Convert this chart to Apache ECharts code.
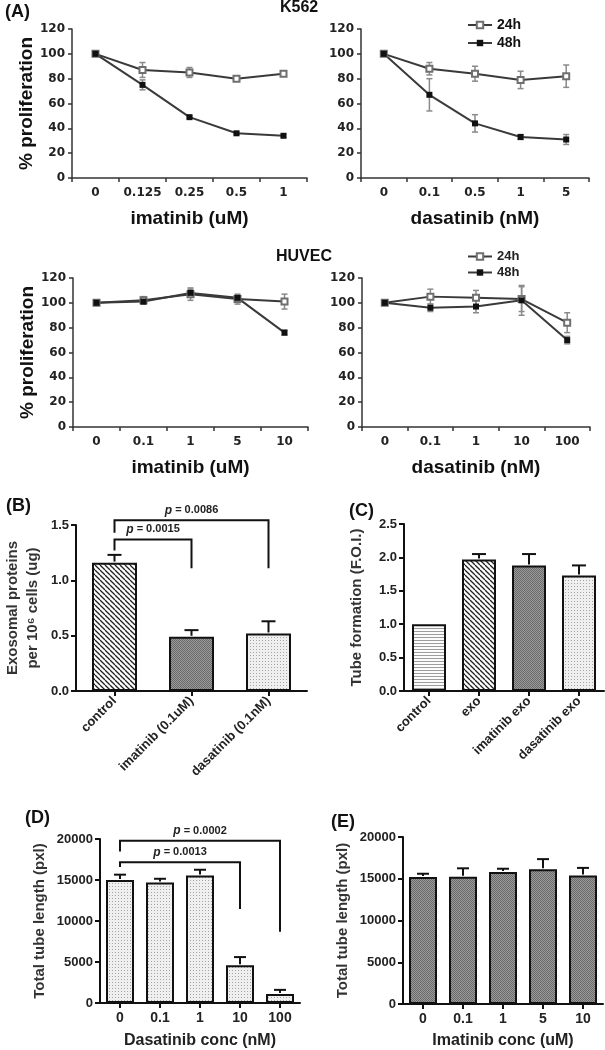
<!DOCTYPE html>
<html><head><meta charset="utf-8">
<script src="https://cdn.jsdelivr.net/npm/echarts@6/dist/echarts.min.js"></script>
<style>html,body{margin:0;padding:0;background:#fff}#c{width:605px;height:1050px}</style>
</head><body><div id="c"></div>
<script>
// ---------- DATA ----------
const catKImat = ['0','0.125','0.25','0.5','1'];
const catKDasa = ['0','0.1','0.5','1','5'];
const catHImat = ['0','0.1','1','5','10'];
const catHDasa = ['0','0.1','1','10','100'];

const kImat24 = [100, 87, 85, 80, 84];   const kImat24Err = [0, 6, 4, 2, 1];
const kImat48 = [100, 75, 49, 36, 34];   const kImat48Err = [0, 4, 1, 1, 1];
const kDasa24 = [100, 88, 84, 79, 82];   const kDasa24Err = [0, 5, 6, 7, 9];
const kDasa48 = [100, 67, 44, 33, 31];   const kDasa48Err = [0, 13, 7, 2, 4];
const hImat24 = [100, 102, 107, 103, 101]; const hImat24Err = [0, 3, 5, 4, 6];
const hImat48 = [100, 101, 108, 104, 76];  const hImat48Err = [0, 2, 3, 2, 2];
const hDasa24 = [100, 105, 104, 103, 84];  const hDasa24Err = [0, 6, 6, 10, 8];
const hDasa48 = [100, 96, 97, 102, 70];    const hDasa48Err = [0, 3, 5, 12, 3];
const profTicks = [0, 20, 40, 60, 80, 100, 120];

const catB = ['control','imatinib (0.1uM)','dasatinib (0.1nM)'];
const valB = [1.16, 0.49, 0.52];
const errB = [0.07, 0.06, 0.11];
const bracketB = [[0, 1, 1.37, 1.27, 1.11], [0, 2, 1.543, 1.43, 1.11]];
const pLabelB = ['0.0015', '0.0086'];

const catC = ['control','exo','imatinib exo','dasatinib exo'];
const valC = [1.0, 1.97, 1.88, 1.73];
const errC = [0, 0.08, 0.17, 0.15];

const catD = ['0','0.1','1','10','100'];
const valD = [15000, 14700, 15550, 4600, 1100];
const errD = [650, 450, 700, 1000, 500];
const bracketD = [[0, 3, 17150, 16600, 11450], [0, 4, 19800, 18470, 8700]];
const pLabelD = ['0.0013', '0.0002'];

const catE = ['0','0.1','1','5','10'];
const valE = [15200, 15250, 15800, 16150, 15400];
const errE = [400, 1000, 400, 1200, 900];

// ---------- PATTERNS (style) ----------
function makePattern(kind){
  const c = document.createElement('canvas');
  let ctx;
  if (kind === 'diag') {
    c.width = 5; c.height = 5; ctx = c.getContext('2d');
    ctx.fillStyle = '#fff'; ctx.fillRect(0,0,5,5);
    ctx.strokeStyle = '#222'; ctx.lineWidth = 1.3;
    for (const k of [-5,0,5]) { ctx.beginPath(); ctx.moveTo(k,0); ctx.lineTo(k+5,5); ctx.stroke(); }
  } else if (kind === 'dark') {
    c.width = 2; c.height = 2; ctx = c.getContext('2d');
    ctx.fillStyle = '#9a9a9a'; ctx.fillRect(0,0,2,2);
    ctx.fillStyle = '#6a6a6a'; ctx.fillRect(0,0,1,1); ctx.fillRect(1,1,1,1);
  } else if (kind === 'dots') {
    c.width = 3; c.height = 3; ctx = c.getContext('2d');
    ctx.fillStyle = '#efefef'; ctx.fillRect(0,0,3,3);
    ctx.fillStyle = '#a5a5a5'; ctx.fillRect(1,1,1,1);
  } else if (kind === 'horiz') {
    c.width = 3; c.height = 3; ctx = c.getContext('2d');
    ctx.fillStyle = '#fbfbfb'; ctx.fillRect(0,0,3,3);
    ctx.fillStyle = '#9c9c9c'; ctx.fillRect(0,1,3,1);
  }
  return {image: c, repeat: 'repeat'};
}
const P = {diag: makePattern('diag'), dark: makePattern('dark'), dots: makePattern('dots'), horiz: makePattern('horiz')};
const fillB = [P.diag, P.dark, P.dots];
const fillC = [P.horiz, P.diag, P.dark, P.dots];

// ---------- HELPERS ----------
const FA = 'Liberation Sans';
const lineAxisColor = '#333';
function lineX(gi, cats, name){
  return {type:'category', gridIndex:gi, data:cats, boundaryGap:true,
    name:name, nameLocation:'middle', nameGap:31,
    nameTextStyle:{fontFamily:FA, fontWeight:'bold', fontSize:19, color:'#111'},
    axisLine:{show:true, lineStyle:{color:lineAxisColor, width:1.5}},
    axisTick:{show:true, length:4, interval:0, lineStyle:{color:lineAxisColor, width:1.5}},
    axisLabel:{interval:0, fontFamily:'DejaVu Sans', fontWeight:'bold', fontSize:12, color:'#222', margin:9},
    splitLine:{show:false}};
}
function lineY(gi, name){
  return {type:'value', gridIndex:gi, min:profTicks[0], max:profTicks[profTicks.length-1], interval:profTicks[1]-profTicks[0],
    name:name, nameLocation:'middle', nameGap:36,
    nameTextStyle:{fontFamily:FA, fontWeight:'bold', fontSize:19, color:'#111'},
    axisLine:{show:true, lineStyle:{color:lineAxisColor, width:1.5}},
    axisTick:{show:true, length:4, lineStyle:{color:lineAxisColor, width:1.5}},
    axisLabel:{fontFamily:'DejaVu Sans', fontWeight:'bold', fontSize:12, color:'#222', margin:7},
    splitLine:{show:false}};
}
function barX(gi, cats, opts){
  return Object.assign({type:'category', gridIndex:gi, data:cats, boundaryGap:true,
    nameLocation:'middle', nameGap:30,
    nameTextStyle:{fontFamily:FA, fontWeight:'bold', fontSize:16, color:'#222'},
    axisLine:{show:true, lineStyle:{color:'#111', width:2}},
    axisTick:{show:true, alignWithLabel:true, interval:0, length:5, lineStyle:{color:'#111', width:2}},
    axisLabel:{interval:0, fontFamily:FA, fontWeight:'bold', fontSize:14, color:'#222', margin:8},
    splitLine:{show:false}}, opts || {});
}
function barY(gi, min, max, interval, name, gap, fmt, fs){
  return {type:'value', gridIndex:gi, min:min, max:max, interval:interval,
    name:name, nameLocation:'middle', nameGap:gap,
    nameTextStyle:{fontFamily:FA, fontWeight:'bold', fontSize:15, color:'#333', lineHeight:20},
    axisLine:{show:true, lineStyle:{color:'#111', width:2}},
    axisTick:{show:true, length:5, lineStyle:{color:'#111', width:2}},
    axisLabel:{fontFamily:FA, fontWeight:'bold', fontSize:fs || 13, color:'#222', margin:7, formatter:fmt},
    splitLine:{show:false}};
}
function errLineSeries(gi, vals, errs){
  return {type:'custom', xAxisIndex:gi, yAxisIndex:gi, z:2, silent:true,
    encode:{x:0, y:1},
    data: vals.map((v,j)=>[j, v, errs[j]]),
    renderItem: function(params, api){
      const x = api.value(0), v = api.value(1), e = api.value(2);
      if (!e) return null;
      const t = api.coord([x, v+e]), b = api.coord([x, v-e]), w = 3;
      const st = {stroke:'#8a8a8a', lineWidth:1.5};
      return {type:'group', children:[
        {type:'line', shape:{x1:t[0], y1:t[1], x2:b[0], y2:b[1]}, style:st},
        {type:'line', shape:{x1:t[0]-w, y1:t[1], x2:t[0]+w, y2:t[1]}, style:st},
        {type:'line', shape:{x1:b[0]-w, y1:b[1], x2:b[0]+w, y2:b[1]}, style:st}
      ]};
    }};
}
function errBarSeries(gi, vals, errs, capW){
  return {type:'custom', xAxisIndex:gi, yAxisIndex:gi, z:5, silent:true,
    encode:{x:0, y:1},
    data: vals.map((v,j)=>[j, v, errs[j]]),
    renderItem: function(params, api){
      const x = api.value(0), v = api.value(1), e = api.value(2);
      if (!e) return null;
      const t = api.coord([x, v+e]), b = api.coord([x, v]);
      const st = {stroke:'#111', lineWidth:2};
      return {type:'group', children:[
        {type:'line', shape:{x1:t[0], y1:t[1], x2:b[0], y2:b[1]-1}, style:st},
        {type:'line', shape:{x1:t[0]-capW/2, y1:t[1], x2:t[0]+capW/2, y2:t[1]}, style:st}
      ]};
    }};
}
function bracketSeries(gi, brackets, labels){
  return {type:'custom', xAxisIndex:gi, yAxisIndex:gi, z:6, silent:true, clip:false,
    encode:{x:[0,1], y:[2,3,4]},
    data: brackets,
    renderItem: function(params, api){
      const x0 = api.value(0), x1 = api.value(1), yt = api.value(2), yl = api.value(3), yr = api.value(4);
      const pL = api.coord([x0, yl]), pLT = api.coord([x0, yt]), pRT = api.coord([x1, yt]), pR = api.coord([x1, yr]);
      return {type:'group', children:[
        {type:'polyline', shape:{points:[pL, pLT, pRT, pR]}, style:{stroke:'#111', lineWidth:2, fill:null}},
        {type:'text', x:(pLT[0]+pRT[0])/2, y:pLT[1]-4, style:{
          text:'{i|p} = ' + labels[params.dataIndex],
          rich:{i:{fontStyle:'italic', fontWeight:'bold', fontSize:12, fontFamily:FA, fill:'#222'}},
          font:'bold 11px "Liberation Sans"', fill:'#222', align:'center', verticalAlign:'bottom'}}
      ]};
    }};
}
function lineSeries(gi, name, vals){
  const is24 = name === '24h';
  return {type:'line', name:name, xAxisIndex:gi, yAxisIndex:gi, data:vals, z:3,
    symbol: is24 ? 'emptyRect' : 'rect', symbolSize: 6,
    lineStyle:{color:'#3a3a3a', width:2},
    itemStyle: is24 ? {color:'#6f6f6f', borderWidth:1.5} : {color:'#111'}};
}
function barSeries(gi, vals, fills, bw){
  return {type:'bar', xAxisIndex:gi, yAxisIndex:gi, barWidth:bw, z:3,
    itemStyle:{borderColor:'#111', borderWidth:2},
    data: vals.map((v,j)=>({value:v, itemStyle:{color: fills[j]}}))};
}

const txt = (t, left, top, size, extra) => Object.assign({type:'text', left:left, top:top,
  style:{text:t, font:'bold ' + size + 'px "Liberation Sans"', fill:'#111'}}, extra || {});
const plain = v => String(v);

const option = {
  animation:false,
  backgroundColor:'#fff',
  graphic:[
    txt('(A)', 5, 3, 18),
    txt('K562', 280, 0, 16),
    txt('HUVEC', 276, 249, 16),
    txt('(B)', 6, 497, 18),
    txt('(C)', 349, 502, 18),
    txt('(D)', 25, 809, 18),
    txt('(E)', 331, 813, 18)
  ],
  legend:[
    {data:['24h','48h'], orient:'vertical', left:462, top:13, itemGap:4, itemWidth:24, itemHeight:8,
     textStyle:{fontFamily:FA, fontWeight:'bold', fontSize:14, color:'#111'}},
    {data:['24h','48h'], orient:'vertical', left:462, top:245, itemGap:3, itemWidth:24, itemHeight:8,
     textStyle:{fontFamily:FA, fontWeight:'bold', fontSize:13, color:'#222'}}
  ],
  grid:[
    {left:72, top:29, width:235, height:149},
    {left:361, top:29, width:228, height:149},
    {left:73, top:278, width:235, height:149},
    {left:362, top:278, width:228, height:149},
    {left:76, top:525, width:231, height:166},
    {left:404, top:524, width:200, height:167},
    {left:100, top:839, width:200, height:166},
    {left:403, top:837, width:200, height:167}
  ],
  xAxis:[
    lineX(0, catKImat, 'imatinib (uM)'),
    lineX(1, catKDasa, 'dasatinib (nM)'),
    lineX(2, catHImat, 'imatinib (uM)'),
    lineX(3, catHDasa, 'dasatinib (nM)'),
    barX(4, catB, {axisLabel:{interval:0, fontFamily:FA, fontWeight:'bold', fontSize:13, color:'#222', margin:8, rotate:45}}),
    barX(5, catC, {axisLabel:{interval:0, fontFamily:FA, fontWeight:'bold', fontSize:13, color:'#222', margin:8, rotate:45}}),
    barX(6, catD, {name:'Dasatinib conc (nM)', nameGap:30}),
    barX(7, catE, {name:'Imatinib conc (uM)', nameGap:29})
  ],
  yAxis:[
    lineY(0, '% proliferation'),
    lineY(1, ''),
    lineY(2, '% proliferation'),
    lineY(3, ''),
    barY(4, 0, 1.5, 0.5, 'Exosomal proteins\nper 10\u2076 cells (ug)', 33, v => v.toFixed(1), 13),
    barY(5, 0, 2.5, 0.5, 'Tube formation (F.O.I.)', 37, v => v.toFixed(1), 13),
    barY(6, 0, 20000, 5000, 'Total tube length (pxl)', 50, plain, 13),
    barY(7, 0, 20000, 5000, 'Total tube length (pxl)', 50, plain, 13)
  ],
  series:[
    errLineSeries(0, kImat24, kImat24Err), errLineSeries(0, kImat48, kImat48Err),
    lineSeries(0, '24h', kImat24), lineSeries(0, '48h', kImat48),
    errLineSeries(1, kDasa24, kDasa24Err), errLineSeries(1, kDasa48, kDasa48Err),
    lineSeries(1, '24h', kDasa24), lineSeries(1, '48h', kDasa48),
    errLineSeries(2, hImat24, hImat24Err), errLineSeries(2, hImat48, hImat48Err),
    lineSeries(2, '24h', hImat24), lineSeries(2, '48h', hImat48),
    errLineSeries(3, hDasa24, hDasa24Err), errLineSeries(3, hDasa48, hDasa48Err),
    lineSeries(3, '24h', hDasa24), lineSeries(3, '48h', hDasa48),
    barSeries(4, valB, fillB, 45), errBarSeries(4, valB, errB, 14), bracketSeries(4, bracketB, pLabelB),
    barSeries(5, valC, fillC, 34), errBarSeries(5, valC, errC, 14),
    barSeries(6, valD, [P.dots,P.dots,P.dots,P.dots,P.dots], 28), errBarSeries(6, valD, errD, 12), bracketSeries(6, bracketD, pLabelD),
    barSeries(7, valE, [P.dark,P.dark,P.dark,P.dark,P.dark], 28), errBarSeries(7, valE, errE, 12)
  ]
};
const chart = echarts.init(document.getElementById('c'), null, {renderer:'canvas'});
chart.setOption(option);
</script></body></html>
